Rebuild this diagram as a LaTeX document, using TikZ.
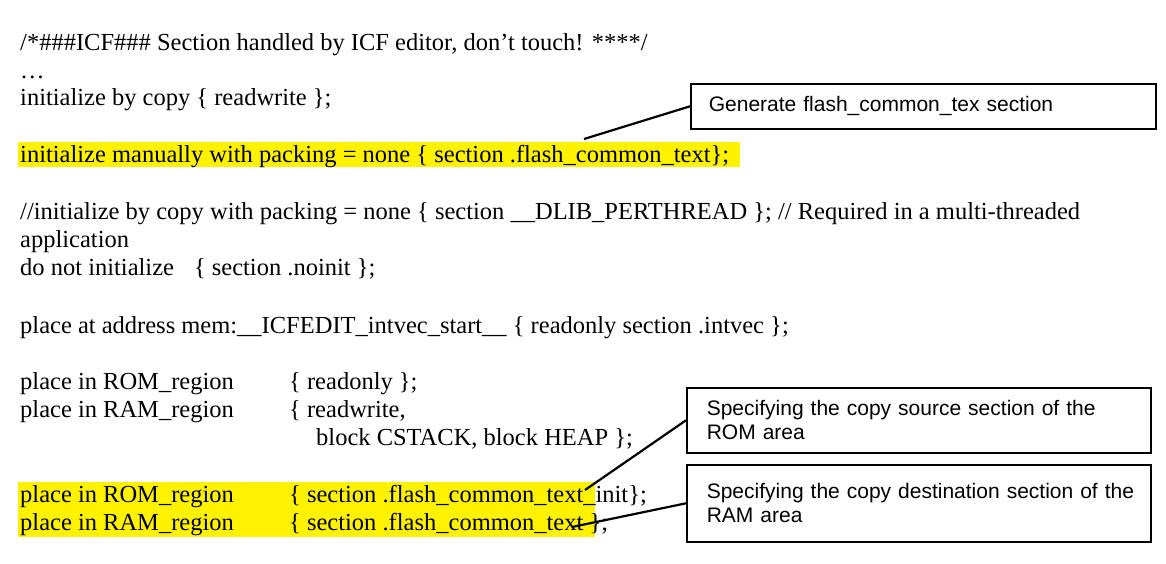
\documentclass[tikz,border=0pt]{standalone}
\usepackage{fontspec}
\setmainfont{Liberation Serif}
\newfontfamily\calloutfont{Liberation Sans}
\usetikzlibrary{positioning}
\begin{document}
\begin{tikzpicture}[x=1pt,y=-1pt,
      codeline/.style={anchor=base west,inner sep=0pt,font=\fontsize{24.5}{28}\selectfont},
      callout/.style={draw=black,line width=1.6pt,anchor=north west,inner sep=0pt,
         font=\calloutfont\fontsize{21}{24}\selectfont,align=left,text width=#1},
      pointer/.style={line width=2.2pt},
      hilite/.style={fill=yellow}
      ]
      \useasboundingbox (0,0) rectangle (1166,563);
      % highlighted rows
      \fill[hilite] (18,142) rectangle (740,167);
      \fill[hilite] (18,482) rectangle (595,537);
      \node[codeline] (l1) at (20,50) {/*\#\#\#ICF\#\#\# Section handled by ICF editor, don't touch! ****/};
      \node[codeline] (l2) at (20,78) {\ldots};
      \node[codeline] (l3) at (20,105) {initialize by copy \{ readwrite \};};
      \node[codeline] (l4) at (20,162) {initialize manually with packing = none \{ section .flash\_common\_text\};};
      \node[codeline] (l5) at (20,219) {//initialize by copy with packing = none \{ section \_\_DLIB\_PERTHREAD \}; // Required in a multi-threaded};
      \node[codeline] (l6) at (20,247) {application};
      \node[codeline] (l7) at (20,275) {do not initialize\hspace{20pt}\{ section .noinit \};};
      \node[codeline] (l8) at (20,333) {place at address mem:\_\_ICFEDIT\_intvec\_start\_\_ \{ readonly section .intvec \};};
      \node[codeline] (l9) at (20,389) {place in ROM\_region};
      \node[codeline] at (289,389) {\{ readonly \};};
      \node[codeline] (l10) at (20,417) {place in RAM\_region};
      \node[codeline] at (289,417) {\{ readwrite,};
      \node[codeline] at (316,445) {block CSTACK, block HEAP \};};
      \node[codeline] (l11) at (20,502) {place in ROM\_region};
      \node[codeline] (rom) at (289,502) {\{ section .flash\_common\_text\_init\};};
      \node[codeline] (l12) at (20,530) {place in RAM\_region};
      \node[codeline] (ram) at (289,530) {\{ section .flash\_common\_text \};};
      % callouts
      \node[callout=465pt,minimum height=45pt] (c1) at (690,83) {\hspace{18pt}Generate flash\_common\_tex section};
      \node[callout=464pt,minimum height=65pt] (c2) at (686,387) {\hspace{20pt}\parbox{440pt}{Specifying the copy source section of the\\ROM area}};
      \node[callout=464pt,minimum height=77pt] (c3) at (686,464) {\hspace{20pt}\parbox{440pt}{Specifying the copy destination section of the\\RAM area}};
      \coordinate (p1) at (584,139);
      \coordinate (p2) at (585,490);
      \coordinate (p3) at (572,527);
      \draw[pointer] (c1.west) -- (p1);
      \draw[pointer] (c2.west) -- (p2);
      \draw[pointer] (c3.west) -- (p3);
\end{tikzpicture}
\end{document}
